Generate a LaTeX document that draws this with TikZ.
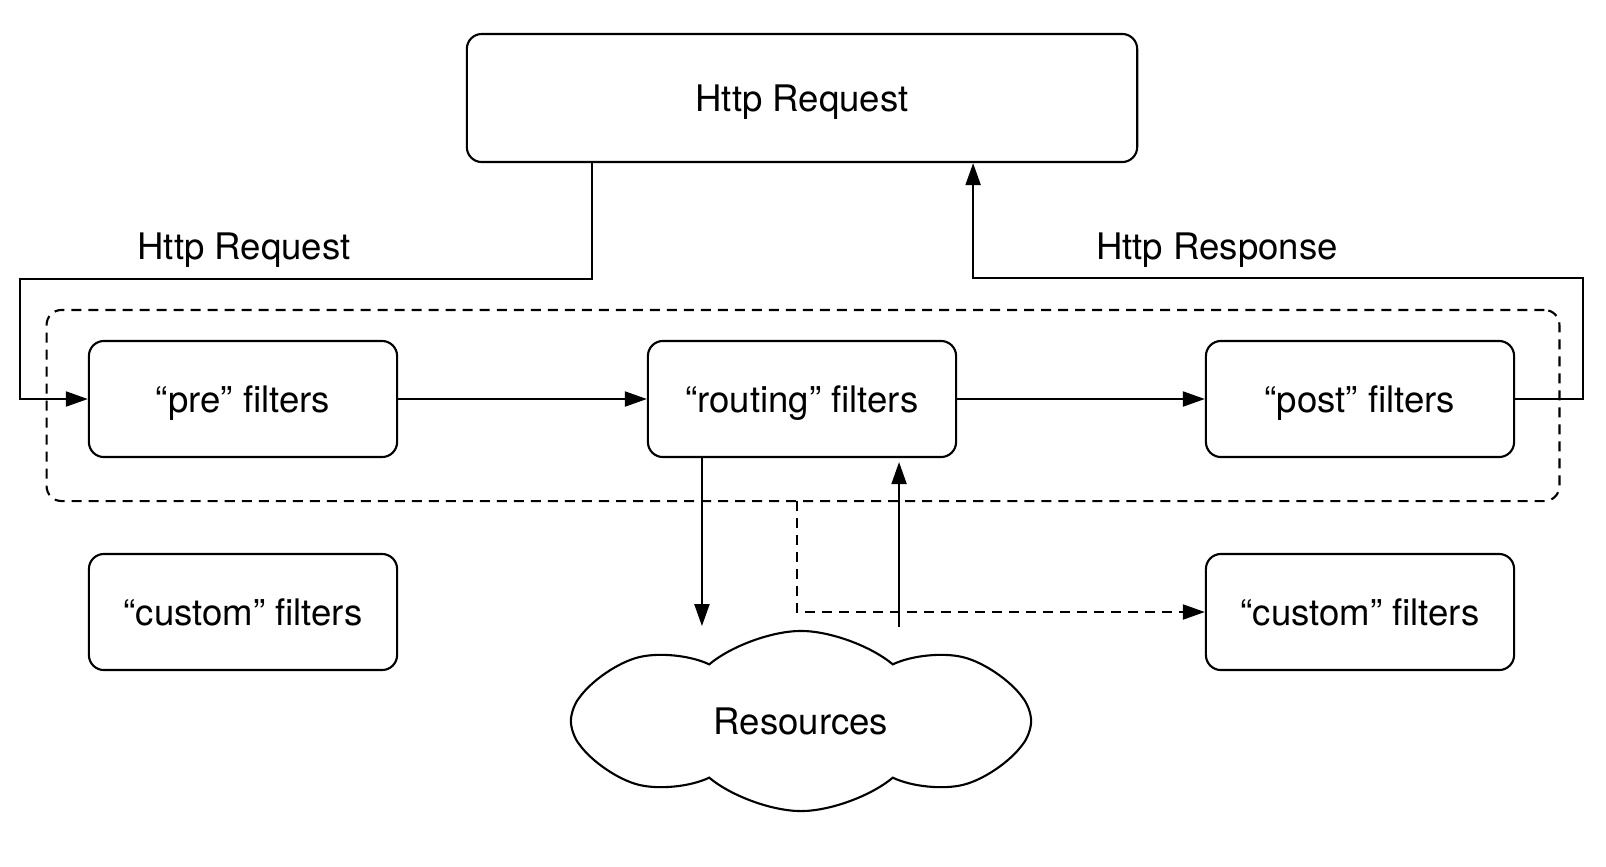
\documentclass[tikz,border=0pt]{standalone}
\usepackage{fontspec}
\setmainfont{TeX Gyre Heros}
\usetikzlibrary{arrows.meta,shapes.symbols}

\begin{document}
\begin{tikzpicture}%
        [x={(0.01cm,0cm)},
        y={(0cm,-0.01cm)},
        font=\fontsize{10.4}{12.5}\selectfont,
        every node/.style={text depth=0pt},
        box/.style={draw, line width=0.6pt, rounded corners=0.15cm, minimum width=3.08cm, minimum height=1.16cm},
        frame/.style={draw, line width=0.6pt, rounded corners=0.15cm, dash pattern=on 0.1cm off 0.07cm, minimum width=15.12cm, minimum height=1.91cm},
        conn/.style={line width=0.6pt, -{Triangle[length=0.22cm,width=0.15cm]}},
        dconn/.style={conn, dash pattern=on 0.1cm off 0.07cm}]
    \useasboundingbox (0,0) rectangle (1606,866);
    %
    %% the request box on top
    \node[box, minimum width=6.7cm, minimum height=1.28cm] (req) at (802,98) {Http Request};
    %
    %% filter chain
    \node[frame] (chain) at (803,405.5) {};
    \node[box] (pre) at (243,399) {“pre” filters};
    \node[box] (routing) at (802,399) {“routing” filters};
    \node[box] (post) at (1360,399) {“post” filters};
    \node[box] (customL) at (243,612) {“custom” filters};
    \node[box] (customR) at (1360,612) {“custom” filters};
    \node[cloud, draw, line width=0.6pt, cloud puffs=8, cloud puff arc=80, aspect=2.5,
          minimum width=4.6cm, minimum height=1.8cm] (res) at (801,721) {Resources};
    %
    %% labels
    \node (reqlabel) at (244,246) {Http Request};
    \node (resplabel) at (1217,246) {Http Response};
    %
    %% connectors
    \draw[conn] ([xshift=-2.1cm]req.south) |- (20,279) |- (pre.west);
    \draw[conn] (post.east) -| (1583,278) -| ([xshift=1.71cm]req.south);
    \draw[conn] (pre) -- (routing);
    \draw[conn] (routing) -- (post);
    \draw[conn] ([xshift=-1cm]routing.south) -- ++(0,168);
    \draw[conn, shorten >=0.04cm] ([xshift=0.97cm,yshift=-1.69cm]routing.south) -- ([xshift=0.97cm]routing.south);
    \coordinate (split) at (797,501);
    \draw[dconn] (split) |- (customR.west);
    %%
\end{tikzpicture}
\end{document}
